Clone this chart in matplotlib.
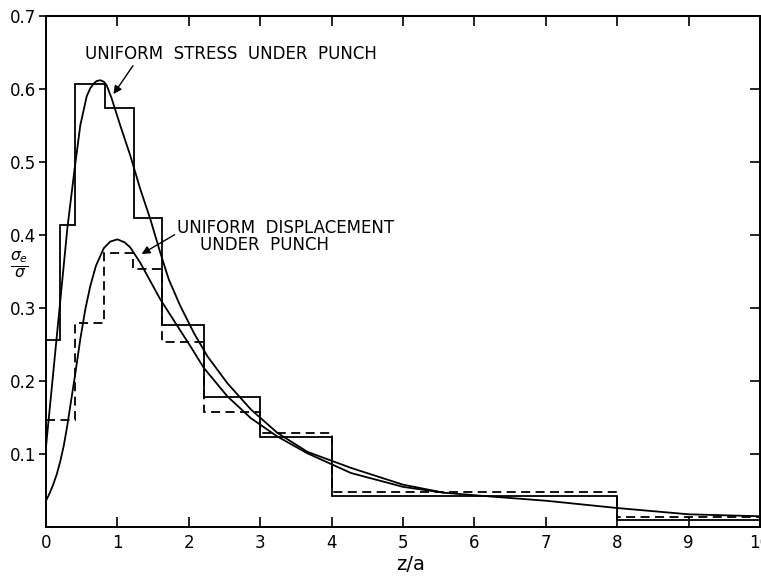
import matplotlib
matplotlib.use("Agg")
import matplotlib.pyplot as plt

# ---------- data ----------

# step profiles (bin edges along z/a, height per bin)
stress_edges = [0, 0.2, 0.41, 0.82, 1.23, 1.62, 2.21, 3.0, 4.0, 8.0, 10.0]
stress_steps = [0.256, 0.414, 0.607, 0.574, 0.423, 0.277, 0.178, 0.123, 0.043, 0.010]

disp_edges = [0, 0.41, 0.81, 1.22, 1.62, 2.21, 3.0, 4.0, 8.0, 10.0]
disp_steps = [0.146, 0.280, 0.375, 0.354, 0.254, 0.158, 0.129, 0.048, 0.014]

# smooth curves, points picked along each line
stress_x = [0, 0.1, 0.2, 0.3, 0.4, 0.48, 0.57, 0.62, 0.665, 0.71, 0.76, 0.81,
            0.85, 0.92, 1.04, 1.18, 1.32, 1.46, 1.6, 1.72, 1.88, 2.07, 2.26,
            2.54, 2.87, 3.24, 3.66, 4.27, 5.0, 5.57, 6.0, 7.0, 8.0, 9.0, 10.0]
stress_y = [0.11, 0.21, 0.31, 0.41, 0.49, 0.55, 0.59, 0.601, 0.607, 0.611,
            0.612, 0.610, 0.605, 0.587, 0.55, 0.509, 0.463, 0.422, 0.376,
            0.339, 0.303, 0.266, 0.234, 0.197, 0.161, 0.129, 0.103, 0.081,
            0.058, 0.047, 0.0435, 0.036, 0.026, 0.0174, 0.0147]

disp_x = [0, 0.05, 0.1, 0.15, 0.2, 0.25, 0.3, 0.35, 0.41, 0.48, 0.55, 0.62,
          0.7, 0.81, 0.9, 1.0, 1.1, 1.18, 1.32, 1.46, 1.6, 1.81, 2.02, 2.21,
          2.54, 2.87, 3.24, 3.66, 4.27, 5.0, 5.57]
disp_y = [0.036, 0.046, 0.058, 0.072, 0.09, 0.112, 0.14, 0.172, 0.21, 0.257,
          0.298, 0.33, 0.358, 0.382, 0.391, 0.394, 0.390, 0.383, 0.362, 0.337,
          0.312, 0.28, 0.248, 0.218, 0.179, 0.149, 0.124, 0.101, 0.074, 0.055,
          0.047]

x_ticks = [0, 1, 2, 3, 4, 5, 6, 7, 8, 9, 10]
y_ticks = [0.1, 0.2, 0.3, 0.4, 0.5, 0.6, 0.7]
y_tick_labels = ["0.1", "0.2", "0.3", "0.4", "0.5", "0.6", "0.7"]

FONT = "DejaVu Sans"
LW = 1.3

# ---------- figure ----------

fig = plt.figure(figsize=(7.61, 5.76), dpi=100)
ax = fig.add_axes([46 / 761, 49 / 576, 714 / 761, 511 / 576])

ax.stairs(stress_steps, stress_edges, color="black", lw=LW, baseline=None)
ax.stairs(disp_steps, disp_edges, color="black", lw=LW, baseline=None,
          linestyle=(0, (5, 3)))
ax.plot(stress_x, stress_y, color="black", lw=LW)
ax.plot(disp_x, disp_y, color="black", lw=LW)

ax.set_xlim(0, 10)
ax.set_ylim(0, 0.7)

ax.set_xticks(x_ticks)
ax.set_xticklabels([str(t) for t in x_ticks], fontsize=12, family=FONT)
ax.set_yticks(y_ticks)
ax.set_yticklabels(y_tick_labels, fontsize=12, family=FONT)

ax.tick_params(axis="x", direction="in", top=True, length=7, width=1.2, pad=5)
ax.tick_params(axis="y", which="both", left=True, right=False, direction="out",
               length=5, width=1.2, pad=2)
# right side ticks point inward
ax_r = ax.twinx()
ax_r.set_ylim(0, 0.7)
ax_r.set_yticks(y_ticks)
ax_r.set_yticklabels([])
ax_r.tick_params(axis="y", direction="in", length=7, width=1.2)

for a in (ax, ax_r):
    for sp in a.spines.values():
        sp.set_linewidth(1.3)

# annotations
ax.annotate("UNIFORM  STRESS  UNDER  PUNCH", xy=(0.945, 0.593), xytext=(0.55, 0.648),
            fontsize=12, family=FONT, va="center", ha="left",
            arrowprops=dict(arrowstyle="-|>", color="black", lw=1.0,
                            shrinkA=0, shrinkB=0,
                            relpos=(0.17, 0.0)))
ax.annotate("UNIFORM  DISPLACEMENT", xy=(1.34, 0.374), xytext=(1.84, 0.41),
            fontsize=12, family=FONT, va="center", ha="left",
            arrowprops=dict(arrowstyle="-|>", color="black", lw=1.0,
                            shrinkA=0, shrinkB=0, relpos=(0.0, 0.2)))
ax.text(2.15, 0.386, "UNDER  PUNCH", fontsize=12, family=FONT,
        va="center", ha="left")

ax.set_xlabel("z/a", fontsize=14, family=FONT, labelpad=0)
ax.xaxis.set_label_coords(5.1 / 10, -0.055)
ax.text(-0.37, 0.358, r"$\frac{\sigma_e}{\sigma}$", fontsize=16,
        ha="center", va="center")

fig.savefig("out.png", dpi=100)
